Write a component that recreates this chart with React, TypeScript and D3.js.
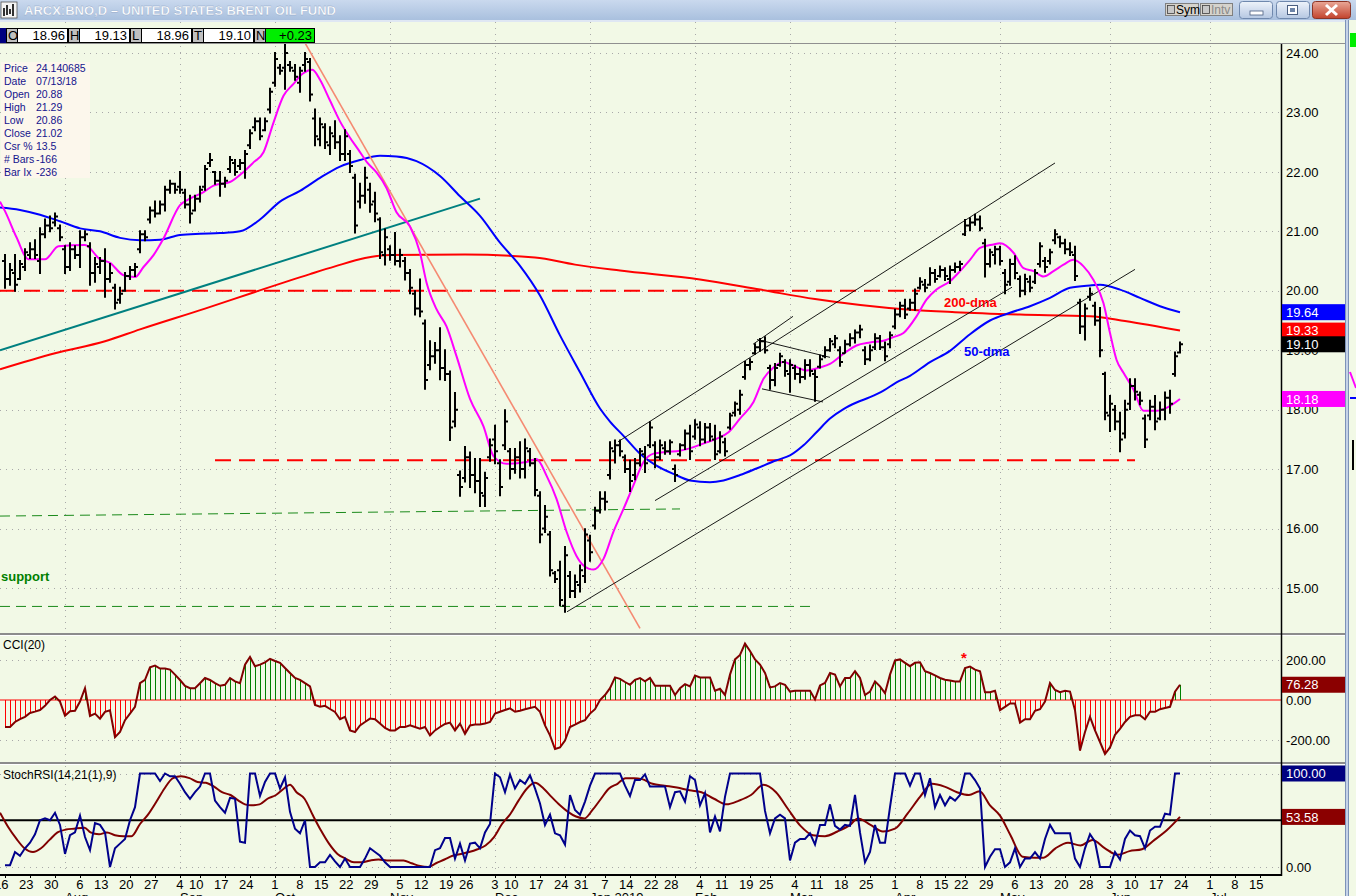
import React from 'react';
import * as d3 from 'd3';

// ---------------- DATA ----------------
const holidays = ['2018-09-03', '2018-11-22', '2018-12-05', '2018-12-25', '2019-01-01', '2019-01-21', '2019-02-18', '2019-04-19', '2019-05-27'];
const firstDate = '2018-07-16';
const lastAxisDate = '2019-07-19';

const opens = [
  20.5, 20.2, 20.3, 20.2, 20.4, 20.6, 20.7, 20.5, 20.95, 21.1,
  21.15, 21.05, 20.7, 20.4, 20.7, 20.6, 20.9, 20.75, 20.3, 20.4,
  20.5, 20.2, 20.05, 19.85, 20.0, 20.25, 20.35, 20.7, 20.95, 21.2,
  21.35, 21.3, 21.45, 21.7, 21.8, 21.75, 21.65, 21.45, 21.35, 21.55,
  21.75, 22.15, 22.0, 21.85, 21.8, 22.05, 22.15, 22.1, 22.15, 22.45,
  22.75, 22.85, 22.7, 23.05, 23.5, 23.75, 23.75, 23.8, 23.7, 23.5,
  23.8, 23.85, 22.9, 22.55, 22.75, 22.45, 22.6, 22.5, 22.3, 22.3,
  21.9, 21.5, 21.6, 21.7, 21.5, 21.2, 20.6, 20.7, 20.6, 20.5,
  20.5, 20.3, 19.95, 19.7, 19.45, 18.75, 18.9, 19.0, 18.7, 18.6,
  17.8, 16.9, 16.85, 17.2, 16.9, 16.8, 16.55, 17.2, 17.5, 17.1,
  17.4, 17.3, 17.0, 17.2, 17.0, 17.3, 17.1, 16.55, 16.0, 15.9,
  15.25, 15.3, 14.7, 15.2, 14.95, 15.05, 15.2, 15.8, 16.05, 16.3,
  16.5, 16.9, 17.3, 17.4, 17.2, 17.0, 16.9, 17.1, 17.25, 17.4,
  17.4, 17.2, 17.35, 17.3, 17.0, 17.25, 17.4, 17.6, 17.55, 17.7,
  17.5, 17.7, 17.5, 17.3, 17.45, 17.7, 17.95, 18.0, 18.55, 18.75,
  18.95, 19.05, 19.15, 18.7, 18.5, 18.75, 18.8, 18.6, 18.7, 18.6,
  18.55, 18.75, 18.6, 18.72, 18.9, 19.0, 19.1, 19.0, 18.95, 19.1,
  19.2, 19.3, 19.0, 18.85, 19.05, 19.2, 19.05, 19.1, 19.4, 19.6,
  19.75, 19.7, 19.8, 20.05, 20.1, 20.1, 20.3, 20.25, 20.35, 20.2,
  20.35, 20.4, 20.95, 21.1, 21.15, 21.2, 20.8, 20.45, 20.6, 20.7,
  20.3, 20.15, 20.45, 20.2, 20.0, 20.15, 20.15, 20.45, 20.5, 20.5,
  20.85, 20.9, 20.8, 20.7, 20.6, 19.8, 19.4, 19.9, 19.75, 19.5,
  18.6, 17.9, 18.0, 17.8, 17.6, 18.1, 18.4, 18.25, 17.85, 17.9,
  18.05, 17.85, 18.0, 18.2, 18.6, 18.96,
];
const highs = [
  20.6, 20.45, 20.6, 20.5, 20.7, 20.8, 20.85, 21.05, 21.2, 21.25,
  21.3, 21.1, 20.75, 20.8, 20.75, 21.0, 21.0, 20.8, 20.55, 20.55,
  20.7, 20.45, 20.1, 20.05, 20.3, 20.4, 20.45, 21.0, 21.0, 21.4,
  21.5, 21.5, 21.75, 21.85, 21.8, 22.0, 21.7, 21.6, 21.6, 21.75,
  22.1, 22.3, 22.0, 22.0, 21.9, 22.25, 22.2, 22.2, 22.35, 22.7,
  22.9, 22.9, 22.9, 23.4, 24.0, 23.8, 24.2, 23.85, 23.8, 23.75,
  24.0, 23.9, 23.05, 22.9, 22.8, 22.75, 22.85, 22.6, 22.7, 22.35,
  21.95, 21.8, 22.07, 21.8, 21.65, 21.22, 21.03, 20.75, 20.97, 20.69,
  20.55, 20.35, 19.99, 20.19, 19.5, 19.15, 19.12, 19.37, 19.0, 18.64,
  18.28, 16.96, 17.37, 17.28, 17.17, 17.17, 16.94, 17.5, 17.73, 17.15,
  17.99, 17.34, 17.34, 17.45, 17.5, 17.34, 17.17, 16.61, 16.38, 15.94,
  15.27, 15.44, 15.69, 15.27, 15.21, 15.38, 15.99, 15.88, 16.35, 16.61,
  16.61, 17.45, 17.48, 17.48, 17.23, 17.14, 17.17, 17.34, 17.37, 17.79,
  17.45, 17.48, 17.45, 17.48, 17.06, 17.42, 17.65, 17.73, 17.82, 17.79,
  17.76, 17.76, 17.73, 17.62, 17.51, 17.93, 18.12, 18.32, 18.8, 18.85,
  19.1, 19.19, 19.22, 18.74, 18.77, 18.94, 18.83, 18.83, 18.74, 18.69,
  18.83, 18.83, 18.66, 18.91, 19.05, 19.19, 19.24, 19.05, 19.16, 19.27,
  19.33, 19.41, 19.05, 19.08, 19.27, 19.24, 19.13, 19.3, 19.68, 19.8,
  19.85, 19.85, 20.02, 20.21, 20.18, 20.38, 20.35, 20.41, 20.38, 20.41,
  20.46, 20.49, 21.19, 21.22, 21.28, 21.25, 20.86, 20.69, 20.74, 20.74,
  20.35, 20.52, 20.58, 20.24, 20.27, 20.24, 20.35, 20.8, 20.55, 20.69,
  21.02, 20.91, 20.86, 20.8, 20.74, 19.85, 19.77, 20.04, 19.8, 19.71,
  18.62, 18.23, 18.06, 17.95, 18.15, 18.51, 18.51, 18.29, 17.9, 18.15,
  18.23, 18.12, 18.29, 18.32, 18.96, 19.13,
];
const lows = [
  20.05, 20.1, 20.0, 20.2, 20.35, 20.55, 20.55, 20.3, 20.9, 21.0,
  21.1, 20.85, 20.3, 20.35, 20.55, 20.4, 20.85, 20.1, 20.15, 20.3,
  19.9, 20.15, 19.7, 19.8, 20.0, 20.2, 20.25, 20.65, 20.85, 21.15,
  21.25, 21.3, 21.35, 21.65, 21.65, 21.65, 21.4, 21.15, 21.35, 21.5,
  21.7, 22.1, 21.8, 21.6, 21.75, 22.0, 21.95, 22.05, 21.9, 22.4,
  22.7, 22.55, 22.7, 23.0, 23.45, 23.65, 23.4, 23.7, 23.55, 23.35,
  23.7, 23.2, 22.45, 22.45, 22.4, 22.3, 22.4, 22.2, 22.2, 22.0,
  20.98, 21.4, 21.48, 21.33, 21.17, 20.55, 20.44, 20.52, 20.44, 20.41,
  20.19, 19.96, 19.6, 19.57, 18.35, 18.68, 18.79, 18.51, 18.5, 17.49,
  17.72, 16.55, 16.79, 16.7, 16.61, 16.38, 16.38, 17.14, 17.1, 16.56,
  17.34, 16.84, 16.94, 16.86, 16.86, 17.06, 16.56, 15.77, 15.94, 15.21,
  15.1, 14.71, 14.6, 14.85, 14.85, 14.94, 15.1, 15.46, 16.0, 16.27,
  16.32, 16.84, 17.11, 17.23, 16.95, 16.63, 16.83, 17.06, 16.95, 17.37,
  17.03, 17.17, 17.26, 17.26, 16.8, 17.23, 17.34, 17.17, 17.51, 17.4,
  17.45, 17.48, 17.17, 17.28, 17.23, 17.68, 17.9, 17.93, 18.52, 18.68,
  18.94, 18.99, 18.96, 18.35, 18.41, 18.74, 18.57, 18.3, 18.52, 18.46,
  18.52, 18.57, 18.15, 18.71, 18.88, 18.99, 19.05, 18.74, 18.96, 19.08,
  19.13, 19.22, 18.77, 18.83, 19.02, 19.02, 18.83, 19.05, 19.37, 19.57,
  19.54, 19.68, 19.68, 20.04, 19.99, 20.1, 20.15, 20.24, 20.18, 20.13,
  20.32, 20.35, 20.94, 21.02, 21.11, 21.02, 20.24, 20.41, 20.46, 20.44,
  19.96, 20.1, 20.21, 19.91, 19.94, 19.99, 20.13, 20.41, 20.32, 20.46,
  20.8, 20.74, 20.63, 20.6, 20.18, 19.29, 19.18, 19.85, 19.43, 18.9,
  17.84, 17.64, 17.67, 17.3, 17.53, 18.01, 18.17, 18.09, 17.37, 17.84,
  17.67, 17.84, 17.84, 17.95, 18.57, 18.96,
];
const closes = [
  20.2, 20.35, 20.1, 20.45, 20.65, 20.7, 20.6, 20.95, 21.1, 21.05,
  21.25, 20.9, 20.4, 20.7, 20.6, 20.9, 20.95, 20.3, 20.45, 20.5,
  20.2, 20.3, 19.8, 19.95, 20.25, 20.35, 20.4, 20.95, 20.9, 21.35,
  21.3, 21.45, 21.7, 21.8, 21.7, 21.7, 21.45, 21.3, 21.55, 21.7,
  22.05, 22.2, 21.85, 21.8, 21.85, 22.2, 22.0, 22.15, 22.3, 22.65,
  22.85, 22.6, 22.85, 23.35, 23.9, 23.7, 24.0, 23.75, 23.6, 23.7,
  23.9, 23.3, 22.6, 22.8, 22.5, 22.65, 22.5, 22.3, 22.6, 22.1,
  21.1, 21.6, 21.9, 21.45, 21.3, 20.65, 20.9, 20.6, 20.5, 20.6,
  20.3, 20.05, 19.7, 19.65, 18.5, 18.9, 19.0, 18.7, 18.6, 17.7,
  18.0, 16.7, 17.2, 16.9, 16.8, 16.6, 16.85, 17.4, 17.3, 16.7,
  17.8, 17.0, 17.2, 17.0, 17.35, 17.1, 16.65, 15.9, 16.2, 15.3,
  15.15, 14.8, 15.55, 14.95, 15.1, 15.3, 15.9, 15.6, 16.3, 16.5,
  16.45, 17.35, 17.4, 17.3, 17.0, 16.8, 17.1, 17.3, 17.1, 17.7,
  17.2, 17.4, 17.3, 17.45, 16.9, 17.4, 17.6, 17.3, 17.75, 17.5,
  17.7, 17.55, 17.25, 17.55, 17.3, 17.9, 18.1, 18.25, 18.75, 18.8,
  19.05, 19.15, 19.0, 18.5, 18.7, 18.9, 18.65, 18.75, 18.6, 18.55,
  18.75, 18.65, 18.55, 18.85, 19.0, 19.15, 19.2, 18.8, 19.1, 19.2,
  19.3, 19.35, 18.85, 19.0, 19.2, 19.05, 18.9, 19.25, 19.6, 19.75,
  19.6, 19.8, 19.95, 20.15, 20.05, 20.3, 20.2, 20.35, 20.25, 20.35,
  20.4, 20.45, 21.1, 21.15, 21.2, 21.05, 20.45, 20.65, 20.7, 20.5,
  20.1, 20.45, 20.3, 20.0, 20.2, 20.05, 20.3, 20.75, 20.4, 20.65,
  20.95, 20.8, 20.7, 20.65, 20.25, 19.4, 19.7, 19.95, 19.5, 19.0,
  17.95, 18.1, 17.8, 17.5, 18.0, 18.4, 18.3, 18.15, 17.5, 18.05,
  17.8, 18.0, 18.2, 18.1, 18.9, 19.1,
];

// moving averages, read as [bar index, value]
const ma10 = [
  [-1, 21.5], [0, 21.34], [2.3, 20.9], [4.7, 20.53], [8, 20.53], [10.7, 20.75], [16, 20.77], [19, 20.53], [21, 20.47],
  [23.7, 20.26], [26, 20.23], [27.7, 20.4], [29.7, 20.6], [31.7, 20.88], [35, 21.44], [37, 21.55], [39.7, 21.66],
  [41.7, 21.77], [45, 21.83], [47.7, 22.0], [49.7, 22.16], [51.7, 22.33], [53.7, 22.83], [55.7, 23.28], [57.7, 23.48],
  [59.5, 23.65], [61.5, 23.72], [63, 23.55], [65, 23.2], [67, 22.85], [68.8, 22.6], [70.7, 22.37], [72.5, 22.15],
  [74.3, 21.99], [76.3, 21.73], [78.3, 21.32], [81, 21.08], [83, 20.64], [84.3, 20.14], [86.3, 19.69], [88.3, 19.4],
  [90.3, 18.9], [93, 18.18], [95.7, 17.72], [97.7, 17.22], [100.3, 17.09], [104.3, 17.12], [106.3, 17.17], [108.3, 16.89],
  [110.3, 16.5], [112.3, 15.95], [114.3, 15.54], [115.7, 15.38], [117.7, 15.31], [119.7, 15.49], [121.7, 15.95],
  [123.7, 16.33], [125.7, 16.73], [127.7, 17.12], [129.7, 17.26], [132.3, 17.29], [135, 17.31], [137.7, 17.37],
  [140.3, 17.45], [142.3, 17.51], [144.7, 17.62], [147, 17.85], [149.7, 18.13], [151.7, 18.52], [153.7, 18.71],
  [155.7, 18.8], [157.7, 18.74], [160.3, 18.66], [163, 18.71], [165, 18.77], [167.7, 18.94], [170.3, 19.08], [173, 19.13],
  [175.7, 19.16], [177.7, 19.22], [179.7, 19.29], [182.3, 19.57], [184.3, 19.85], [186.3, 20.02], [189, 20.16],
  [191, 20.33], [193, 20.52], [195, 20.72], [197.7, 20.78], [199, 20.8], [201.7, 20.64], [203.7, 20.38], [205.7, 20.33],
  [207.7, 20.24], [209.7, 20.33], [211.7, 20.44], [213.7, 20.52], [215.7, 20.41], [217.7, 20.18], [219.7, 19.79],
  [221, 19.29], [222.3, 18.84], [223.7, 18.62], [225.7, 18.34], [227.7, 17.98], [230.3, 17.98], [232.3, 18.03], [235, 18.18],
];
const ma50 = [
  [-1, 21.4], [3, 21.36], [7, 21.28], [11, 21.17], [15, 21.05], [19, 21.0], [23, 20.89], [27, 20.85], [31, 20.86],
  [35, 20.94], [39, 20.96], [43, 20.97], [47, 21.0], [51, 21.2], [55, 21.5], [59, 21.68], [63, 21.9], [67, 22.09],
  [71, 22.2], [75, 22.27], [78.3, 22.26], [82.3, 22.18], [87, 21.93], [91, 21.59], [95, 21.26], [99, 20.81], [103, 20.42],
  [107, 19.92], [111, 19.25], [115, 18.63], [119, 18.02], [121, 17.8], [123.7, 17.56], [127, 17.26], [130.3, 17.06],
  [133.7, 16.92], [137, 16.81], [141, 16.78], [143.7, 16.81], [147, 16.9], [150.3, 17.01], [154.3, 17.15], [157, 17.23],
  [159.7, 17.4], [162.3, 17.62], [165, 17.85], [167.7, 18.01], [170.3, 18.12], [173, 18.21], [175.7, 18.32],
  [178.3, 18.46], [181, 18.57], [185, 18.8], [189, 18.99], [193, 19.27], [197, 19.5], [201, 19.63], [205, 19.74],
  [209, 19.88], [213, 20.05], [217, 20.09], [219, 20.1], [223, 20.02], [227, 19.88], [231, 19.74], [235, 19.64],
];
const ma200 = [
  [-1, 18.68], [10, 18.95], [20, 19.15], [27, 19.35], [40, 19.7], [50, 19.98], [61, 20.28], [66, 20.41], [72, 20.55],
  [77, 20.6], [92, 20.61], [106, 20.56], [114, 20.44], [123, 20.34], [139, 20.19], [151, 20.02], [162, 19.86],
  [181, 19.68], [190, 19.64], [203, 19.6], [217, 19.57], [224, 19.49], [235, 19.33],
];

const cci = [
  -135, -135, -110, -96, -84, -65, -58, -50, -29, 0,
  17, -8, -79, -56, -54, -8, 59, -80, -68, -93,
  -59, -51, -186, -160, -101, -68, -34, 84, 101, 164,
  172, 157, 157, 152, 127, 100, 70, 59, 59, 84,
  110, 100, 84, 71, 76, 110, 93, 84, 177, 215,
  169, 177, 188, 206, 195, 186, 160, 135, 110, 101,
  84, 68, -25, -34, -29, -45, -60, -96, -84, -152,
  -160, -127, -110, -93, -96, -118, -140, -152, -152, -135,
  -135, -127, -135, -144, -135, -177, -152, -135, -120, -113,
  -152, -118, -169, -127, -123, -123, -118, -110, -68, -59,
  -50, -42, -59, -54, -46, -40, -34, -59, -127, -177,
  -245, -237, -203, -135, -123, -110, -101, -68, -46, 0,
  25, 59, 113, 106, 90, 76, 101, 110, 93, 110,
  71, 71, 71, 71, 25, 59, 79, 68, 122, 113,
  113, 113, 46, 56, 25, 127, 203, 225, 282, 245,
  203, 177, 135, 63, 68, 85, 76, 42, 46, 46,
  46, 46, 3, 73, 85, 135, 127, 68, 110, 110,
  144, 110, 25, 42, 93, 68, 34, 127, 198, 203,
  186, 169, 186, 189, 144, 135, 123, 110, 101, 98,
  93, 93, 160, 167, 152, 144, 39, 39, 46, -51,
  -34, -17, -17, -113, -96, -96, -54, -46, -8, 85,
  50, 39, 46, 42, -51, -253, -160, -84, -152, -210,
  -270, -237, -174, -144, -110, -84, -76, -76, -96, -59,
  -59, -46, -40, -34, 42, 76.28,
];
const stochK = [
  2, 2, 16, 12, 20, 26, 35, 50, 52, 50,
  58, 45, 14, 34, 37, 55, 32, 18, 47, 45,
  37, 0, 20, 25, 30, 50, 64, 100, 100, 100,
  100, 92, 100, 97, 97, 89, 80, 73, 80, 86,
  100, 100, 71, 64, 58, 74, 73, 27, 26, 100,
  100, 76, 91, 100, 100, 84, 96, 59, 41, 36,
  50, 0, 0, 5, 5, 13, 6, 0, 9, 0,
  0, 0, 9, 20, 16, 12, 5, 0, 0, 0,
  0, 0, 0, 0, 0, 0, 18, 20, 31, 31,
  9, 25, 7, 25, 26, 20, 37, 46, 100, 96,
  80, 99, 84, 93, 89, 98, 84, 68, 45, 56,
  36, 34, 24, 77, 61, 56, 70, 87, 100, 100,
  100, 100, 100, 100, 87, 76, 93, 93, 99, 86,
  86, 86, 86, 64, 80, 81, 70, 97, 93, 66,
  79, 37, 54, 38, 75, 100, 100, 100, 100, 100,
  100, 100, 60, 36, 52, 56, 52, 7, 26, 30,
  30, 36, 24, 45, 45, 67, 44, 40, 45, 44,
  77, 37, 5, 16, 45, 26, 26, 64, 100, 100,
  100, 87, 100, 100, 77, 95, 64, 77, 66, 75,
  71, 77, 100, 100, 93, 84, 0, 11, 19, 19,
  0, 5, 20, 0, 9, 9, 16, 9, 30, 45,
  36, 36, 36, 36, 9, 0, 20, 35, 27, 0,
  0, 0, 16, 8, 30, 39, 34, 33, 20, 39,
  43, 43, 57, 56, 100, 100,
];
const stochD = [
  [-1, 58], [0.6, 43], [2.3, 30], [3.9, 20], [5.6, 16], [7.2, 20], [8.9, 29], [10.5, 37], [12.2, 40], [13.8, 41],
  [15.9, 42], [17.1, 37], [18.8, 35], [20.4, 37], [22, 34], [23.7, 33], [25.3, 33], [27, 46], [28.6, 56], [30.3, 70],
  [31.9, 84], [33.6, 95], [35.2, 97], [36.9, 95], [38.5, 91], [40.2, 90], [41.8, 86], [43.4, 80], [45.1, 77], [46.7, 71],
  [48, 67], [49.2, 66], [50.9, 67], [52.5, 73], [54.2, 77], [55.8, 84], [57, 88], [58.3, 80], [59.9, 73], [61.6, 55],
  [63.2, 39], [64.8, 25], [66.5, 14], [68.1, 9], [69.8, 5], [71.4, 5], [73.1, 7], [74.7, 8], [76.4, 7], [78, 7],
  [79.7, 7], [81.3, 4], [83, 1], [84.6, 0], [86.2, 4], [87.9, 8], [89.5, 12], [91.2, 14], [92.8, 16], [94.5, 19],
  [96.1, 23], [97.8, 32], [99.4, 46], [101.1, 57], [102.7, 71], [104.4, 84], [106, 90], [107.7, 84], [109.3, 75],
  [111, 66], [112.6, 59], [114.2, 54], [115.9, 52], [117.5, 61], [119.2, 73], [120.8, 84], [122.5, 89], [124.1, 95],
  [125.8, 95], [127.4, 94], [129.5, 89], [131.9, 87], [134.4, 85], [136.9, 82], [139.3, 80], [141.8, 73], [144.3, 67],
  [146.8, 71], [149.2, 77], [151.7, 88], [154.2, 80], [156.6, 62], [159.1, 44], [161.6, 34], [164, 33], [166.5, 38],
  [169, 45], [170.6, 52], [173.1, 45], [175.6, 38], [178, 41], [180.5, 57], [183, 75], [185.4, 89], [187.9, 86],
  [190.4, 80], [192.8, 77], [194.9, 81], [197, 66], [199, 55], [201.1, 34], [203.5, 11], [206, 10], [207.7, 10],
  [210.1, 20], [212.6, 26], [215.1, 23], [217.5, 29], [220, 20], [222.5, 13], [224.9, 17], [227.4, 19], [229.9, 29],
  [232.3, 39], [235, 53.58],
];

// drawn annotations: [[idx, price], [idx, price]]
const tealLine = [[-1, 19.0], [95, 21.55]];
const salmonLine = [[60, 24.17], [127, 14.32]];
const channelLines = [
  [[112.4, 14.6], [226, 20.36]],
  [[130, 16.47], [201.4, 20.06]],
  [[122.6, 17.46], [210, 22.15]],
  [[149.6, 19.1], [157.6, 19.57]],
  [[150.4, 19.18], [165, 18.88]],
  [[151.4, 18.35], [163.6, 18.13]],
];
const redDashed = [[[-1, 20.0], [183, 20.0]], [[42, 17.15], [226, 17.15]]];
const greenDashed = [[[-1, 16.21], [135, 16.33]], [[-1, 14.69], [162, 14.69]]];

const priceTicks = [24, 23, 22, 21, 20, 19, 18, 17, 16, 15];
const cciTicks = [200, 0, -200];
const stochTicks = [100, 0];

const lastValues = [
  { v: 19.64, bg: '#0000ff', label: '19.64' },
  { v: 19.33, bg: '#ff0000', label: '19.33' },
  { v: 19.10, bg: '#000000', label: '19.10' },
  { v: 18.18, bg: '#ff00ff', label: '18.18' },
];
const ohlcRow = [
  { k: 'O', v: '18.96' }, { k: 'H', v: '19.13' }, { k: 'L', v: '18.96' }, { k: 'T', v: '19.10' },
];
const infoRows = [
  ['Price', '24.140685'], ['Date', '07/13/18'], ['Open', '20.88'], ['High', '21.29'], ['Low', '20.86'],
  ['Close', '21.02'], ['Csr %', '13.5'], ['# Bars', '-166'], ['Bar Ix', '-236'],
];

// ---------------- HELPERS ----------------
function buildDates() {
  const out: Date[] = [];
  const hol = new Set(holidays);
  const d = new Date(firstDate + 'T00:00:00Z');
  const end = new Date(lastAxisDate + 'T00:00:00Z');
  while (d <= end) {
    const wd = d.getUTCDay();
    const iso = d.toISOString().slice(0, 10);
    if (wd !== 0 && wd !== 6 && !hol.has(iso)) out.push(new Date(d));
    d.setUTCDate(d.getUTCDate() + 1);
  }
  return out;
}
const MONTHS = ['Jan', 'Feb', 'Mar', 'Apr', 'May', 'Jun', 'Jul', 'Aug', 'Sep', 'Oct', 'Nov', 'Dec'];
const FONT = 'Arial, "Liberation Sans", Helvetica, sans-serif';

export default function App() {
  const dates = buildDates();
  const x = d3.scaleLinear().domain([0, 255]).range([5, 1280]);
  const yP = d3.scaleLinear().domain([15, 24]).range([588, 53]);
  const yC = d3.scaleLinear().domain([-200, 200]).range([740, 660]);
  const yS = d3.scaleLinear().domain([0, 100]).range([867, 773.5]);

  const plotR = 1281;
  const bg = '#f2f9e6';

  // month starts & week labels
  const monthStarts: { i: number; label: string }[] = [];
  const weekLabels: { i: number; label: string }[] = [];
  dates.forEach((dt, i) => {
    const prev = i > 0 ? dates[i - 1] : null;
    if (prev && prev.getUTCMonth() !== dt.getUTCMonth()) {
      const m = dt.getUTCMonth();
      const lbl = m === 0 ? `${MONTHS[m]} ${dt.getUTCFullYear()}` : MONTHS[m];
      monthStarts.push({ i, label: lbl });
    }
    const newWeek = !prev || (dt.getTime() - prev.getTime()) > 86400000 * 1.5 && dt.getUTCDay() <= prev.getUTCDay() || (prev && dt.getUTCDay() < prev.getUTCDay());
    if (newWeek) weekLabels.push({ i, label: String(dt.getUTCDate()) });
  });

  const lineP = d3.line<number[]>().x(d => x(d[0])).y(d => yP(d[1])).curve(d3.curveMonotoneX);
  const lineStraight = (pts: number[][]) => `M${x(pts[0][0])},${yP(pts[0][1])}L${x(pts[1][0])},${yP(pts[1][1])}`;

  let barPath = '';
  highs.forEach((h, i) => {
    const xi = Math.round(x(i));
    barPath += `M${xi},${yP(h) - 1}V${yP(lows[i]) + 1}M${xi - 3},${yP(opens[i])}H${xi}M${xi},${yP(closes[i])}H${xi + 3}`;
  });

  let cciPos = '', cciNeg = '';
  cci.forEach((v, i) => {
    const xi = Math.round(x(i)) + 0.5;
    if (v >= 0) cciPos += `M${xi},${yC(0)}V${yC(v)}`;
    else cciNeg += `M${xi},${yC(0)}V${yC(v)}`;
  });
  const cciLine = d3.line<number>().x((_, i) => x(i)).y(v => yC(v))(cci) || '';
  const kLine = d3.line<number>().x((_, i) => x(i)).y(v => yS(v))(stochK) || '';
  const dLine = d3.line<number[]>().x(d => x(d[0])).y(d => yS(d[1])).curve(d3.curveMonotoneX)(stochD) || '';

  const gridX = monthStarts.map(m => Math.round(x(m.i)) + 0.5);

  return (
    <div style={{ position: 'absolute', left: 0, top: 0, width: 1356, height: 896, overflow: 'hidden' }}>
      <svg width={1356} height={896} style={{ display: 'block', fontFamily: FONT }}>
        <defs>
          <linearGradient id="tb" x1="0" y1="0" x2="0" y2="1">
            <stop offset="0" stopColor="#cad9ee" />
            <stop offset="1" stopColor="#a9c0de" />
          </linearGradient>
          <linearGradient id="btn" x1="0" y1="0" x2="0" y2="1">
            <stop offset="0" stopColor="#eef3fa" />
            <stop offset="1" stopColor="#b5c7e2" />
          </linearGradient>
          <linearGradient id="btnx" x1="0" y1="0" x2="0" y2="1">
            <stop offset="0" stopColor="#e9a898" />
            <stop offset="1" stopColor="#c2422c" />
          </linearGradient>
          <clipPath id="cp"><rect x={0} y={44} width={plotR} height={590} /></clipPath>
          <clipPath id="cc"><rect x={0} y={636} width={plotR} height={126} /></clipPath>
          <clipPath id="cs"><rect x={0} y={766} width={plotR} height={108} /></clipPath>
        </defs>

        <rect x={0} y={0} width={1356} height={896} fill={bg} />

        {/* title bar */}
        <rect x={0} y={0} width={1356} height={20} fill="url(#tb)" />
        <rect x={0} y={20} width={1356} height={2} fill="#dfe7f3" />
        <g>
          <rect x={1} y={2} width={16} height={16} fill="#f4f4f4" stroke="#555" strokeWidth={0.8} />
          <path d="M4,16V8M7,15V5M10,14V9M13,16V4" stroke="#000" strokeWidth={1.6} />
        </g>
        <text x={24} y={15} fontSize={13} fontWeight="bold" fill="#ffffff" stroke="#8aa2c4" strokeWidth={0.3}>ARCX:BNO,D – UNITED STATES BRENT OIL FUND</text>
        {/* Sym / Intv */}
        <g fontSize={12}>
          <rect x={1165.5} y={3.5} width={33} height={12} fill="#d6d3cc" stroke="#808080" />
          <rect x={1167.5} y={5.5} width={7} height={8} fill="#c8c8c8" stroke="#404040" strokeWidth={0.8} />
          <text x={1176} y={14} fill="#000">Sym</text>
          <rect x={1200.5} y={3.5} width={32} height={12} fill="#d6d3cc" stroke="#808080" />
          <rect x={1202.5} y={5.5} width={7} height={8} fill="#c8c8c8" stroke="#404040" strokeWidth={0.8} />
          <text x={1211} y={14} fill="#8a8a8a">Intv</text>
        </g>
        {/* window buttons */}
        <rect x={1239.5} y={1.5} width={33} height={17} rx={3} fill="url(#btn)" stroke="#6f88ad" />
        <rect x={1250} y={11} width={13} height={4} fill="#fff" stroke="#4a5e80" strokeWidth={0.8} />
        <rect x={1276.5} y={1.5} width={33} height={17} rx={3} fill="url(#btn)" stroke="#6f88ad" />
        <rect x={1287.5} y={5.5} width={10} height={9} fill="#fff" stroke="#4a5e80" strokeWidth={1} />
        <rect x={1290} y={8} width={5} height={4} fill="#6d84a8" />
        <rect x={1312.5} y={1.5} width={38} height={17} rx={3} fill="url(#btnx)" stroke="#8a3426" />
        <path d="M1326,5L1337,15M1337,5L1326,15" stroke="#fff" strokeWidth={3} />

        {/* grid */}
        <g stroke="#a9a9a9" strokeWidth={1} strokeDasharray="1,5">
          {gridX.map((gx, k) => <line key={'gx' + k} x1={gx} x2={gx} y1={22} y2={875} />)}
          {priceTicks.map(p => <line key={'gp' + p} x1={0} x2={plotR} y1={Math.round(yP(p)) + 0.5} y2={Math.round(yP(p)) + 0.5} />)}
          {[200, -200].map(v => <line key={'gc' + v} x1={0} x2={plotR} y1={Math.round(yC(v)) + 0.5} y2={Math.round(yC(v)) + 0.5} />)}
          {stochTicks.map(v => <line key={'gs' + v} x1={0} x2={plotR} y1={Math.round(yS(v)) + 0.5} y2={Math.round(yS(v)) + 0.5} />)}
        </g>

        {/* OHLC header row */}
        <g fontSize={13}>
          <rect x={0} y={28} width={6} height={15} fill="#000080" />
          {ohlcRow.map((r, k) => {
            const x0 = 6 + k * 62;
            return (
              <g key={r.k}>
                <rect x={x0 + 0.5} y={28.5} width={11} height={14} fill="#c0c0c0" stroke="#000" />
                <text x={x0 + 2} y={40} fill="#000">{r.k}</text>
                <rect x={x0 + 11.5} y={28.5} width={50} height={14} fill="#fff" stroke="#000" />
                <text x={x0 + 59} y={40} textAnchor="end" fill="#000">{r.v}</text>
              </g>
            );
          })}
          <rect x={254.5} y={28.5} width={11} height={14} fill="#c0c0c0" stroke="#000" />
          <text x={256} y={40} fill="#000">N</text>
          <rect x={265.5} y={28.5} width={49} height={14} fill="#00ee00" stroke="#000" />
          <text x={312} y={40} textAnchor="end" fill="#000">+0.23</text>
        </g>

        {/* panel borders */}
        <line x1={0} x2={1346} y1={43.5} y2={43.5} stroke="#909090" />
        <rect x={0} y={633} width={1346} height={2} fill="#8c8c8c" />
        <rect x={0} y={635} width={1346} height={1} fill="#ffffff" />
        <rect x={0} y={762} width={1346} height={2} fill="#8c8c8c" />
        <rect x={0} y={764} width={1346} height={1} fill="#ffffff" />

        {/* PRICE PANEL */}
        <g clipPath="url(#cp)">
          {greenDashed.map((l, k) => (
            <path key={'gd' + k} d={lineStraight(l)} stroke="#1a8a1a" strokeWidth={1} strokeDasharray="10,6" fill="none" />
          ))}
          {redDashed.map((l, k) => (
            <path key={'rd' + k} d={lineStraight(l)} stroke="#ff0000" strokeWidth={2} strokeDasharray="16,8" fill="none" />
          ))}
          <path d={lineStraight(tealLine)} stroke="#008080" strokeWidth={2} fill="none" />
          <path d={lineP(ma200 as any) || ''} stroke="#ff0000" strokeWidth={2} fill="none" />
          <path d={lineP(ma50 as any) || ''} stroke="#0000ff" strokeWidth={2} fill="none" />
          <path d={lineStraight(salmonLine)} stroke="#f58a72" strokeWidth={1.6} fill="none" />
          {channelLines.map((l, k) => (
            <path key={'ch' + k} d={lineStraight(l)} stroke="#000" strokeWidth={0.9} fill="none" />
          ))}
          <path d={lineP(ma10 as any) || ''} stroke="#ff00ff" strokeWidth={2} fill="none" />
          <path d={barPath} stroke="#000" strokeWidth={2} fill="none" />
        </g>
        <text x={944} y={307} fontSize={13} fontWeight="bold" fill="#ff0000">200-dma</text>
        <text x={964} y={356} fontSize={13} fontWeight="bold" fill="#0000ff">50-dma</text>
        <text x={1} y={581} fontSize={13} fontWeight="bold" fill="#008000">support</text>

        {/* info box */}
        <rect x={1} y={62} width={89} height={116} fill="#fcf7ec" />
        <g fontSize={10.5} fill="#14148c">
          {infoRows.map((r, k) => (
            <g key={r[0]}>
              <text x={4} y={72 + k * 13}>{r[0]}</text>
              <text x={36} y={72 + k * 13}>{r[1]}</text>
            </g>
          ))}
        </g>

        {/* CCI PANEL */}
        <g clipPath="url(#cc)">
          <line x1={0} x2={plotR} y1={yC(0)} y2={yC(0)} stroke="#ff0000" strokeWidth={1.2} />
          <path d={cciPos} stroke="#008000" strokeWidth={1} fill="none" />
          <path d={cciNeg} stroke="#ff0000" strokeWidth={1} fill="none" />
          <path d={cciLine} stroke="#800000" strokeWidth={2} fill="none" />
        </g>
        <text x={3} y={649} fontSize={12} fill="#000">CCI(20)</text>
        <text x={961} y={663} fontSize={15} fill="#ff0000" fontWeight="bold">*</text>

        {/* STOCH RSI PANEL */}
        <g clipPath="url(#cs)">
          <line x1={0} x2={plotR} y1={yS(50)} y2={yS(50)} stroke="#000" strokeWidth={2} />
          <path d={dLine} stroke="#800000" strokeWidth={2} fill="none" />
          <path d={kLine} stroke="#00008b" strokeWidth={2} fill="none" />
        </g>
        <text x={3} y={779} fontSize={12} fill="#000">StochRSI(14,21(1),9)</text>

        {/* axes */}
        <line x1={plotR + 0.5} x2={plotR + 0.5} y1={44} y2={876} stroke="#000" strokeWidth={1.5} />
        <line x1={0} x2={plotR + 1} y1={875} y2={875} stroke="#000" strokeWidth={2} />
        <g fontSize={13} fill="#000">
          {priceTicks.map(p => <text key={'pt' + p} x={1286} y={yP(p)} dy="0.36em">{p.toFixed(2)}</text>)}
          {cciTicks.map(v => <text key={'ct' + v} x={1286} y={yC(v)} dy="0.36em">{v.toFixed(2)}</text>)}
          {stochTicks.map(v => <text key={'st' + v} x={1286} y={yS(v)} dy="0.36em">{v.toFixed(2)}</text>)}
        </g>
        {/* last value boxes */}
        <g fontSize={13}>
          {lastValues.map(b => (
            <g key={b.label}>
              <rect x={1282} y={yP(b.v) - 8} width={63} height={16} fill={b.bg} />
              <text x={1286} y={yP(b.v)} dy="0.36em" fill="#fff">{b.label}</text>
            </g>
          ))}
          <rect x={1282} y={yC(cci[cci.length - 1]) - 8} width={63} height={16} fill="#8b0000" />
          <text x={1286} y={yC(cci[cci.length - 1])} dy="0.36em" fill="#fff">{cci[cci.length - 1].toFixed(2)}</text>
          <rect x={1282} y={yS(100) - 8} width={63} height={16} fill="#000080" />
          <text x={1286} y={yS(100)} dy="0.36em" fill="#fff">100.00</text>
          <rect x={1282} y={yS(53.58) - 8} width={63} height={16} fill="#8b0000" />
          <text x={1286} y={yS(53.58)} dy="0.36em" fill="#fff">53.58</text>
        </g>

        {/* x axis labels */}
        <g fontSize={13} fill="#000">
          {weekLabels.map(w => (
            <g key={'w' + w.i}>
              <line x1={Math.round(x(w.i)) + 0.5} x2={Math.round(x(w.i)) + 0.5} y1={875} y2={878} stroke="#000" />
              <text x={x(w.i) + 3.5} y={889} textAnchor="end">{w.label}</text>
            </g>
          ))}
          {monthStarts.map(m => <text key={'m' + m.i} x={x(m.i)} y={902}>{m.label}</text>)}
        </g>

        {/* right border & neighbour pane sliver */}
        <rect x={1345} y={20} width={4} height={876} fill="#c5d3e8" />
        <line x1={1345.5} x2={1345.5} y1={20} y2={896} stroke="#7d93b8" />
        <line x1={1348.5} x2={1348.5} y1={20} y2={896} stroke="#7d93b8" />
        <rect x={1349} y={20} width={7} height={876} fill={bg} />
        <rect x={1350} y={33} width={6} height={14} fill="#00ee00" />
        <path d="M1350,372L1356,388" stroke="#ff00ff" strokeWidth={2} />
        <path d="M1350,398H1356" stroke="#0000ff" strokeWidth={2} />
        <path d="M1353,440V470" stroke="#000" strokeWidth={2} />
      </svg>
    </div>
  );
}
